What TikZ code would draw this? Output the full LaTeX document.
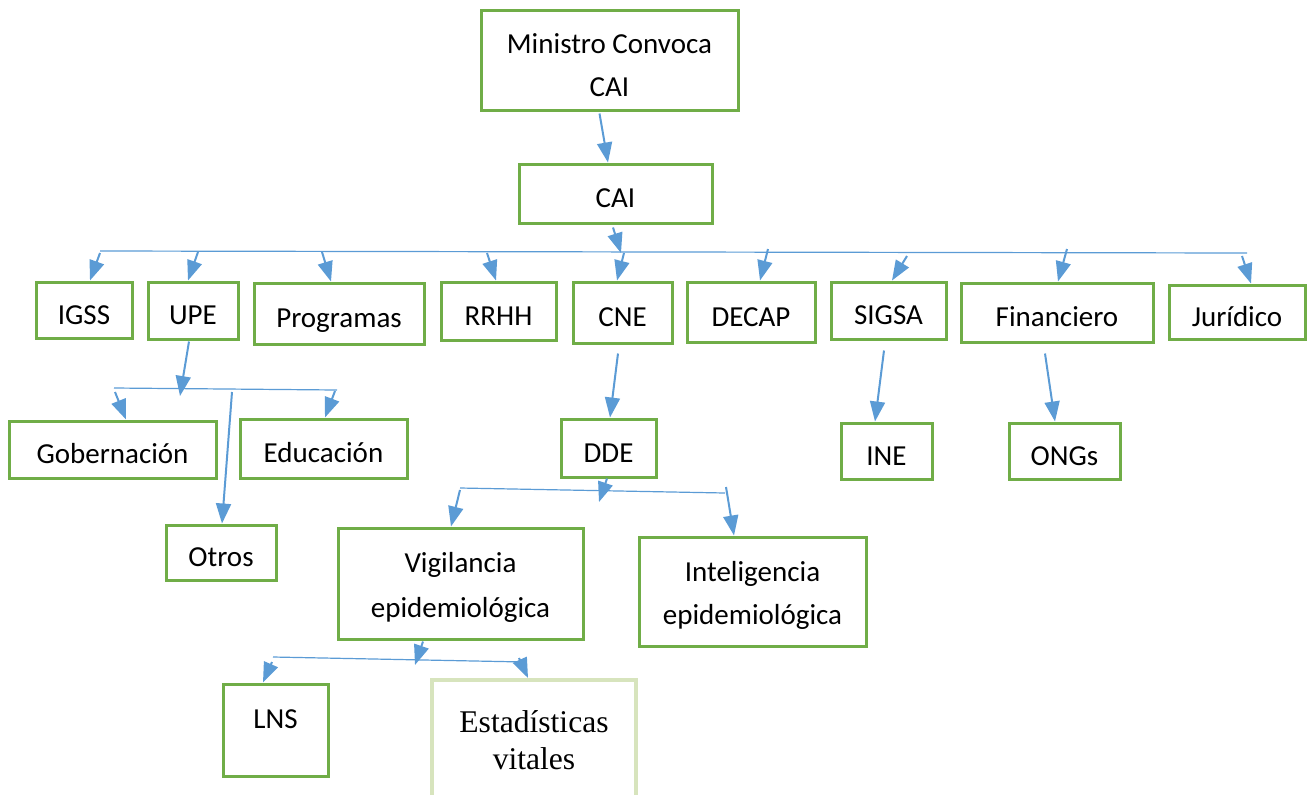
\documentclass[tikz,border=0pt]{standalone}
\usepackage{fontspec}
\setmainfont{Carlito}
\newfontfamily\timesfont{Liberation Serif}
\usepackage{xcolor}
\usetikzlibrary{arrows.meta,calc}

\definecolor{boxgreen}{HTML}{70AD47}
\definecolor{palegreen}{HTML}{D7E4BD}
\definecolor{arrowblue}{HTML}{5B9BD5}

\begin{document}
\begin{tikzpicture}[x=0.5pt,y=-0.5pt,
  box/.style={draw=boxgreen,line width=1.5pt,fill=white,inner sep=0pt,
    font=\fontsize{14.5}{21.5}\selectfont},
  oneline/.style={text height=14pt,text depth=0pt},
  link/.style={draw=arrowblue,line width=1pt,-{Triangle[length=10pt,width=7.5pt]}},
  bus/.style={draw=arrowblue,line width=0.6pt}]
  \useasboundingbox (0,0) rectangle (1307,794);

  \node[box,align=center,minimum width=128.5pt,minimum height=50pt] (ministro) at (609.5,60) {\rule{0pt}{15pt}Ministro Convoca\\CAI};
  \foreach \n/\x/\y/\w/\h/\t in {cai/615.5/193.5/193/59/CAI,
      igss/84/310/96/56/IGSS, upe/193/310.5/90/57/UPE, prog/339/313.5/170/61/Programas,
      rrhh/498.5/311/115/58/RRHH, cne/622.5/312.5/99/61/CNE, decap/751/312/128/60/DECAP,
      sigsa/888.5/310.5/115/57/SIGSA, fin/1057/312.5/192/59/Financiero, jur/1237/312/136/54/Jurídico,
      gob/112.5/449.5/207/57/Gobernación, edu/323.5/448.5/167/59/Educación, otros/221/552.5/110/55/Otros,
      dde/608.5/448/95/58/DDE, ine/886.5/451/91/56/INE, ongs/1064.5/451/111/56/ONGs} {
    \node[box,oneline,minimum width=\w*0.5pt,minimum height=\h*0.5pt] (\n) at (\x,\y) {\t};
  }
  \node[box,align=center,font=\fontsize{14.5}{22.5}\selectfont,minimum width=122.5pt,minimum height=55.5pt] (vig) at (460.5,583.5) {\rule{0pt}{14pt}Vigilancia\\epidemiológica};
  \node[box,align=center,minimum width=113.5pt,minimum height=54.5pt] (intel) at (752.5,591.5) {\rule{0pt}{14pt}Inteligencia\\epidemiológica};
  \node[box,text height=9pt,text depth=11pt,minimum width=52.5pt,minimum height=46pt] (lns) at (275.5,730) {LNS};
  \node[box,draw=palegreen,line width=2pt,align=center,font=\timesfont\fontsize{15.8}{18.5}\selectfont,
    minimum width=102pt,minimum height=60pt] (est) at (534,740) {Estadísticas\\vitales};

  \draw[link] ($(ministro.south)+(-10,2)$) -- ($(cai.north)+(-7.5,0)$);
  \coordinate (caiin) at (621,253);
  \draw[link] ($(cai.south)+(-2.5,3)$) -- (caiin);
  \coordinate (busA) at (100,251);
  \coordinate (busB) at (1247,253);
  \draw[bus] (busA) -- (busB);
  \foreach \n/\sx/\sy/\dx in {igss/100/253/6, upe/198/252/-5, prog/322/252/-8, rrhh/487/253/-2.5,
      cne/624/253/-5.5, decap/768/249/9, sigsa/907/256/3.5, fin/1067/249/1, jur/1242/256/14} {
    \coordinate (t\n) at (\sx,\sy);
    \draw[link] (t\n) -- ($(\n.north)+(\dx,0)$);
  }

  \coordinate (upein) at (180,396);
  \draw[link] ($(upe.south)+(-4,1)$) -- (upein);
  \coordinate (busC) at (114,388);
  \coordinate (busD) at (337,390);
  \draw[bus] (busC) -- (busD);
  \foreach \n/\sx/\sy/\dx in {gob/115/392/13.5, edu/335/391/1.5, otros/232/392/1} {
    \coordinate (t\n) at (\sx,\sy);
    \draw[link] (t\n) -- ($(\n.north)+(\dx,0)$);
  }

  \draw[link] ($(cne.south)+(-4.5,9)$) -- ($(dde.north)+(1.5,0)$);
  \draw[link] ($(sigsa.south)+(-4.5,10)$) -- ($(ine.north)+(-11.5,0)$);
  \draw[link] ($(fin.south)+(-12,10)$) -- ($(ongs.north)+(-9.5,0)$);

  \coordinate (ddein) at (599,502);
  \draw[link] ($(dde.south)+(-1.5,0)$) -- (ddein);
  \coordinate (busE) at (460,488);
  \coordinate (busF) at (725,493);
  \draw[bus] (busE) -- (busF);
  \foreach \n/\sx/\sy/\dx in {vig/460/490/-9.5, intel/726/487/-18.5} {
    \coordinate (t\n) at (\sx,\sy);
    \draw[link] (t\n) -- ($(\n.north)+(\dx,0)$);
  }

  \coordinate (vigin) at (415,665);
  \draw[link] ($(vig.south)+(-37.5,1)$) -- (vigin);
  \coordinate (busG) at (273,657);
  \coordinate (busH) at (525,662);
  \draw[bus] (busG) -- (busH);
  \foreach \n/\sx/\sy/\dx in {lns/272/662/-12.5, est/519/658/-6} {
    \coordinate (t\n) at (\sx,\sy);
    \draw[link] (t\n) -- ($(\n.north)+(\dx,0)$);
  }
\end{tikzpicture}
\end{document}
